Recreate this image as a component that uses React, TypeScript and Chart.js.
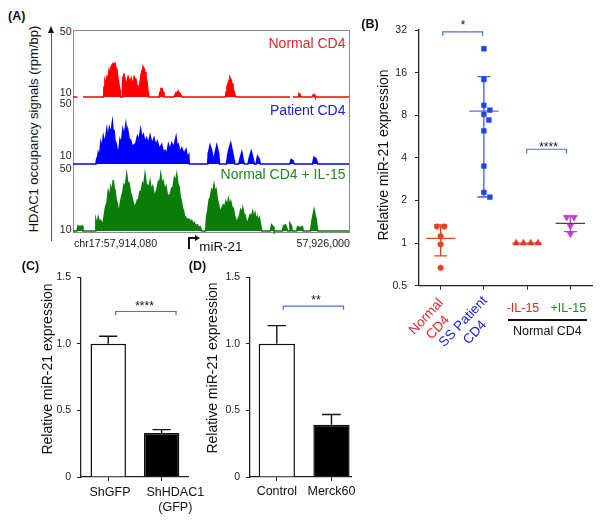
import React, { useEffect, useRef } from 'react';
import { Chart, registerables } from 'chart.js';

Chart.register(...registerables);

const FONT = '"Liberation Sans", Arial, Helvetica, sans-serif';
const AX = '#222';

// ---------------- (A) HDAC1 occupancy tracks ----------------
const regionStart = 57914080;
const regionEnd = 57926000;
const regionKb = (regionEnd - regionStart) / 1000;
const signalMin = 10;
const signalMax = 50;
const trackLabels = ['Normal CD4', 'Patient CD4', 'Normal CD4 + IL-15'];

// [kb from region start, signal (rpm/bp)]
const normalTrack: [number, number | null][] = [
  [0, 10], [0.19, 10], [0.22, null], [0.43, 10], [1.32, 10], [1.34, 16], [1.38, 20], [1.43, 18], [1.47, 22], [1.51, 21],
  [1.56, 26], [1.60, 24], [1.64, 28], [1.68, 29], [1.73, 30], [1.77, 29], [1.81, 30], [1.86, 27], [1.90, 25], [1.94, 21],
  [1.99, 17], [2.03, 14], [2.05, 10], [2.12, 10], [2.14, 18], [2.16, 22], [2.20, 24], [2.25, 20], [2.29, 17], [2.33, 19],
  [2.38, 22], [2.42, 20], [2.46, 19], [2.51, 21], [2.55, 17], [2.59, 19], [2.64, 22], [2.68, 21], [2.72, 20], [2.76, 17],
  [2.81, 15], [2.85, 16], [2.89, 18], [2.94, 23], [2.98, 26], [3.02, 28], [3.07, 27], [3.11, 25], [3.15, 22], [3.20, 19],
  [3.24, 13], [3.26, 10], [3.72, 10], [3.76, 13], [3.80, 15], [3.84, 15], [3.89, 13], [3.93, 10], [4.36, 10], [4.41, 11.5],
  [4.45, 12.5], [4.49, 12], [4.54, 13.5], [4.58, 12.5], [4.62, 12], [4.67, 11], [4.71, 10], [6.59, 10], [6.61, 13], [6.65, 16],
  [6.70, 18], [6.74, 20], [6.78, 21.5], [6.83, 20], [6.87, 18], [6.91, 15], [6.96, 13], [7.00, 11], [7.04, 10], [9.37, 10],
  [9.42, null], [9.50, 10], [9.72, 10], [9.76, 12], [9.80, 11.5], [9.85, 10], [10.32, 10], [10.37, 11], [10.41, 11.5], [10.45, 10],
  [11.92, 10],
];

const patientTrack: [number, number | null][] = [
  [0, 10], [0.99, 10], [1.02, 12.6], [1.05, 11.5], [1.09, 16.5], [1.14, 14], [1.20, 22.5], [1.25, 19], [1.31, 26.4], [1.38, 22],
  [1.46, 30.4], [1.51, 25], [1.57, 31.4], [1.63, 28], [1.70, 34.7], [1.73, 29], [1.77, 30.4], [1.81, 24], [1.86, 22.5], [1.91, 18],
  [1.96, 17.5], [2.00, 20], [2.03, 24.4], [2.09, 22], [2.15, 30.4], [2.21, 27], [2.28, 33.4], [2.32, 27], [2.36, 30.4], [2.42, 25],
  [2.49, 24.4], [2.56, 20], [2.64, 21.5], [2.71, 22], [2.78, 26.4], [2.85, 24], [2.92, 30.4], [2.98, 25], [3.04, 27.4], [3.11, 23],
  [3.18, 25.4], [3.25, 22], [3.33, 26.8], [3.41, 22], [3.50, 25.4], [3.57, 21], [3.64, 23.4], [3.73, 19], [3.83, 21.5], [3.90, 17],
  [3.97, 18.1], [4.05, 16], [4.12, 21.5], [4.19, 18], [4.26, 22.5], [4.35, 20], [4.45, 26], [4.50, 20], [4.55, 21.5], [4.62, 17],
  [4.70, 19.5], [4.79, 16], [4.88, 18.5], [4.94, 14], [5.00, 15.5], [5.02, 10], [5.82, 10], [5.84, 16], [5.92, 21], [5.99, 18],
  [6.05, 13], [6.10, 14], [6.21, 21], [6.29, 16], [6.33, 10], [6.63, 10], [6.68, 15], [6.74, 19], [6.81, 22.3], [6.89, 17],
  [6.96, 12], [6.98, 10], [7.16, 10], [7.21, 13], [7.29, 16.9], [7.34, 13], [7.40, 10], [7.56, 10], [7.62, 14], [7.70, 17.5],
  [7.78, 13], [7.83, 10], [7.91, 10], [7.97, 14.5], [8.04, 13], [8.09, 10], [9.37, 10], [9.42, 12.6], [9.50, 12], [9.55, 10],
  [10.35, 10], [10.41, 14], [10.50, 13], [10.57, 10], [11.92, 10],
];

const il15Track: [number, number | null][] = [
  [0, 10], [0.17, 10], [0.22, 13], [0.30, 12.5], [0.39, 13], [0.43, 10], [0.97, 10], [0.99, 16.6], [1.04, 14], [1.09, 18.2],
  [1.15, 15], [1.20, 16.2], [1.26, 14], [1.31, 15.6], [1.36, 20], [1.41, 24.5], [1.47, 27], [1.52, 33.5], [1.58, 30], [1.63, 36.4],
  [1.69, 33], [1.74, 40.4], [1.78, 35], [1.81, 34.5], [1.86, 29], [1.91, 26.5], [1.96, 21], [2.00, 22.5], [2.05, 27], [2.10, 30.5],
  [2.15, 33], [2.20, 37.5], [2.26, 36], [2.32, 43.4], [2.37, 38], [2.42, 38.5], [2.48, 33], [2.54, 30.5], [2.61, 26], [2.68, 24.5],
  [2.73, 26], [2.78, 28.5], [2.84, 29], [2.89, 33.5], [2.95, 34], [3.01, 38.5], [3.06, 37], [3.11, 43.4], [3.16, 38], [3.21, 37.5],
  [3.27, 35], [3.33, 39.4], [3.38, 34], [3.44, 36.4], [3.51, 31], [3.57, 32.5], [3.63, 35], [3.69, 39.4], [3.74, 38], [3.79, 43.4],
  [3.85, 37], [3.90, 39.4], [3.96, 34], [4.02, 36.4], [4.09, 30], [4.15, 31.5], [4.21, 32], [4.26, 35.5], [4.32, 36], [4.38, 41.5],
  [4.43, 39], [4.48, 43.4], [4.53, 38], [4.58, 36.4], [4.63, 30], [4.67, 28.5], [4.72, 24], [4.76, 22.5], [4.82, 19], [4.88, 17.6],
  [4.93, 17.2], [4.94, 10], [4.96, 10], [4.97, 17], [5.02, 17], [5.08, 15], [5.13, 16.2], [5.19, 14], [5.24, 15], [5.30, 13],
  [5.37, 13.6], [5.43, 12], [5.49, 12.6], [5.56, 10], [5.73, 10], [5.77, 18.5], [5.82, 22], [5.88, 28.5], [5.93, 30], [5.99, 34.5],
  [6.04, 33], [6.09, 37.5], [6.14, 33], [6.18, 34.5], [6.23, 29], [6.28, 26.5], [6.33, 22], [6.38, 22.5], [6.44, 24], [6.49, 25.5],
  [6.55, 24], [6.60, 27.5], [6.66, 25], [6.71, 28.9], [6.76, 25], [6.81, 27.5], [6.87, 24], [6.92, 23.6], [6.98, 19], [7.04, 16.6],
  [7.09, 15], [7.14, 17.6], [7.19, 19], [7.24, 22.5], [7.29, 21], [7.33, 23.6], [7.38, 20], [7.43, 19.6], [7.48, 16], [7.53, 14.6],
  [7.59, 17], [7.65, 19.6], [7.70, 18], [7.76, 21.5], [7.81, 18], [7.86, 20.6], [7.91, 17], [7.96, 18.5], [8.00, 16], [8.05, 17.6],
  [8.10, 14], [8.15, 10], [8.53, 10], [8.58, 13.6], [8.64, 12.5], [8.68, 10], [9.05, 10], [9.09, 13], [9.18, 13.6], [9.27, 10],
  [9.33, 10], [9.37, 14.6], [9.44, 13], [9.46, 10], [9.66, 10], [9.70, 12.6], [9.81, 12], [9.91, 12.6], [9.94, 10], [10.26, 10],
  [10.32, 16], [10.41, 22.5], [10.50, 17], [10.56, 10], [11.92, 10],
];

// ---------------- (B) relative miR-21 expression ----------------
const bCategories = ['Normal CD4', 'SS Patient CD4', '-IL-15', '+IL-15'];
const bTicks = [0.5, 1, 2, 4, 8, 16, 32];
const normalCD4 = [1.31, 1.31, 1.12, 0.98, 0.67];
const patientCD4 = [23.6, 14.3, 9.4, 8.7, 8.1, 7.4, 6.2, 3.5, 2.28, 2.11];
const minusIL15 = [1, 1, 1, 1];
const plusIL15 = [1.52, 1.52, 1.32, 1.16];
const bBrackets = [
  { from: 1.05, to: 1.97, level: 31 },
  { from: 2.99, to: 3.91, level: 4.6 },
];

// ---------------- (C) shRNA ----------------
const cLabels = ['ShGFP', 'ShHDAC1\n(GFP)'];
const cMean = [1.0, 0.33];
const cErr = [0.057, 0.026];
const cBracket = { from: 1.14, to: 2.27, level: 1.243 };

// ---------------- (D) Merck60 ----------------
const dLabels = ['Control', 'Merck60'];
const dMean = [1.0, 0.393];
const dErr = [0.137, 0.077];
const dBracket = { from: 1.12, to: 2.22, level: 1.284 };

const yTicksCD = [0, 0.5, 1, 1.5];

// ---------------- helpers ----------------
const base: any = {
  animation: false,
  responsive: false,
  maintainAspectRatio: false,
  events: [],
  plugins: { legend: { display: false }, tooltip: { enabled: false } },
};

function mean(a: number[]) {
  return a.reduce((s, v) => s + v, 0) / a.length;
}
function sd(a: number[]) {
  const m = mean(a);
  return Math.sqrt(a.reduce((s, v) => s + (v - m) * (v - m), 0) / (a.length - 1));
}

// simple beeswarm on the log scale (points that would overlap are moved sideways)
function swarm(vals: number[], center: number): number[] {
  const PXU = 43.25, PXL = 43.5, D = 7.3;
  const xs = vals.map(() => center);
  const cnt = new Map<number, number>();
  vals.forEach((v) => cnt.set(v, (cnt.get(v) || 0) + 1));
  const seen = new Map<number, number>();
  const placed: { x: number; y: number }[] = [];
  vals.forEach((v, i) => {
    const n = cnt.get(v) as number;
    if (n > 1) {
      const k = seen.get(v) || 0;
      seen.set(v, k + 1);
      xs[i] = center + ((k - (n - 1) / 2) * D) / PXU;
      placed.push({ x: xs[i] * PXU, y: Math.log2(v) * PXL });
    }
  });
  vals.forEach((v, i) => {
    if ((cnt.get(v) as number) > 1) return;
    const y = Math.log2(v) * PXL;
    for (let s = 0; s < 40; s++) {
      const off = s === 0 ? 0 : (s % 2 ? 1 : -1) * Math.ceil(s / 2);
      const px = center * PXU + off;
      if (placed.every((p) => Math.hypot(p.x - px, p.y - y) >= D)) {
        xs[i] = px / PXU;
        placed.push({ x: px, y });
        break;
      }
    }
  });
  return xs;
}

function ChartCanvas({ left, top, width, height, config }: any) {
  const ref = useRef<HTMLCanvasElement>(null);
  useEffect(() => {
    const chart = new Chart(ref.current as HTMLCanvasElement, config());
    return () => chart.destroy();
  }, []);
  return (
    <canvas
      ref={ref}
      width={width}
      height={height}
      style={{ position: 'absolute', left, top, width, height }}
    />
  );
}

function T({ x, y, s = 12, c = '#111', b = false, a = 'c', r = 0, lh, children }: any) {
  const tx = a === 'c' ? '-50%' : a === 'r' ? '-100%' : '0%';
  return (
    <div
      style={{
        position: 'absolute',
        left: x,
        top: y,
        transform: `translate(${tx},-50%)${r ? ` rotate(${r}deg)` : ''}`,
        fontFamily: FONT,
        fontSize: s,
        fontWeight: b ? 'bold' : 'normal',
        color: c,
        whiteSpace: 'pre',
        lineHeight: lh ? `${lh}px` : '1.15',
        textAlign: 'center',
      }}
    >
      {children}
    </div>
  );
}

// ---------------- configs ----------------
function trackConfig(track: [number, number | null][], color: string) {
  return () => ({
    type: 'line',
    data: {
      datasets: [
        {
          data: track.map(([p, v]) => ({ x: p, y: v })),
          borderColor: color,
          backgroundColor: color,
          borderWidth: 1.6,
          pointRadius: 0,
          fill: 'start',
          tension: 0,
          spanGaps: false,
          clip: 4,
        },
      ],
    },
    options: {
      ...base,
      layout: { padding: { bottom: 3 } },
      scales: {
        x: { type: 'linear', min: 0, max: regionKb, display: false },
        y: { type: 'linear', min: signalMin, max: signalMax, display: false },
      },
    },
  });
}

function bConfig() {
  const groups = [
    { vals: normalCD4, color: '#f0401e', style: 'circle', r: 2.8, rot: 0, meanColor: '#f0401e', sdColor: '#f0401e' },
    { vals: patientCD4, color: '#1f44e8', style: 'rect', r: 3.4, rot: 0, meanColor: '#5673e6', sdColor: '#3f5fe6' },
    { vals: minusIL15, color: '#ee3322', style: 'triangle', r: 3.9, rot: 0, meanColor: '#666', sdColor: '#666' },
    { vals: plusIL15, color: '#c23fd3', style: 'triangle', r: 3.9, rot: 180, meanColor: '#444', sdColor: '#c23fd3' },
  ];
  const datasets: any[] = [];
  groups.forEach((g, gi) => {
    const c = gi + 1;
    const xs = swarm(g.vals, c);
    datasets.push({
      type: 'scatter',
      data: g.vals.map((v, i) => ({ x: xs[i], y: v })),
      pointStyle: g.style,
      pointRadius: g.r,
      pointRotation: g.rot,
      backgroundColor: g.color,
      borderColor: g.color,
      borderWidth: 0.5,
      order: 0,
    });
    const m = mean(g.vals);
    const s = sd(g.vals);
    datasets.push({
      type: 'scatter',
      showLine: true,
      data: [{ x: c - 0.34, y: m }, { x: c + 0.34, y: m }],
      borderColor: g.meanColor,
      borderWidth: 1.3,
      pointRadius: 0,
      order: 1,
    });
    if (s > 0) {
      datasets.push({
        type: 'scatter',
        showLine: true,
        spanGaps: false,
        data: [
          { x: c, y: m - s }, { x: c, y: m + s }, { x: c, y: null },
          { x: c - 0.15, y: m + s }, { x: c + 0.15, y: m + s }, { x: c, y: null },
          { x: c - 0.15, y: m - s }, { x: c + 0.15, y: m - s },
        ],
        borderColor: g.sdColor,
        borderWidth: 1.3,
        pointRadius: 0,
        order: 1,
      });
    }
  });
  bBrackets.forEach((br) => {
    const tip = br.level / 1.07;
    datasets.push({
      type: 'scatter',
      showLine: true,
      data: [{ x: br.from, y: tip }, { x: br.from, y: br.level }, { x: br.to, y: br.level }, { x: br.to, y: tip }],
      borderColor: '#4a6fe0',
      borderWidth: 1.2,
      pointRadius: 0,
      order: 2,
    });
  });
  return {
    type: 'scatter',
    data: { datasets },
    options: {
      ...base,
      layout: { padding: { top: 30, right: 10, left: 0, bottom: 0 } },
      scales: {
        x: {
          type: 'linear',
          min: 0.5,
          max: 4.5,
          afterBuildTicks: (s: any) => { s.ticks = bCategories.map((_, i) => ({ value: i + 1 })); },
          afterFit: (s: any) => { s.height = 9; },
          ticks: { display: false },
          grid: { drawOnChartArea: false, tickLength: 4, color: AX },
          border: { color: AX, width: 1.3 },
        },
        y: {
          type: 'logarithmic',
          min: 0.5,
          max: 32,
          afterBuildTicks: (s: any) => { s.ticks = bTicks.map((v) => ({ value: v })); },
          afterFit: (s: any) => { s.width = 79; },
          ticks: { callback: (v: any) => String(v), font: { family: FONT, size: 10.5 }, color: AX, padding: 8 },
          grid: { drawOnChartArea: false, tickLength: 4, color: AX },
          border: { color: AX, width: 1.3 },
        },
      },
    },
  };
}

function barConfig(labels: string[], means: number[], errs: number[], br: any, xmin: number, xmax: number, yWidth: number, padRight: number, showLabels: boolean) {
  return () => {
    const err: any[] = [];
    means.forEach((m, i) => {
      const c = i + 1;
      const t = m + errs[i];
      err.push({ x: c, y: m }, { x: c, y: t }, { x: c, y: null }, { x: c - 0.17, y: t }, { x: c + 0.17, y: t }, { x: c, y: null });
    });
    const tip = br.level - 0.028;
    return {
      type: 'bar',
      data: {
        datasets: [
          {
            type: 'bar',
            data: means.map((m, i) => ({ x: i + 1, y: m })),
            backgroundColor: ['#ffffff', '#000000'],
            borderColor: '#111',
            borderWidth: 1.5,
            barPercentage: 0.83,
            categoryPercentage: 0.8,
            order: 3,
          },
          {
            type: 'line',
            data: err,
            borderColor: '#111',
            borderWidth: 1.4,
            pointRadius: 0,
            spanGaps: false,
            order: 1,
          },
          {
            type: 'line',
            data: [{ x: br.from, y: tip }, { x: br.from, y: br.level }, { x: br.to, y: br.level }, { x: br.to, y: tip }],
            borderColor: '#4a6fe0',
            borderWidth: 1.2,
            pointRadius: 0,
            order: 2,
          },
        ],
      },
      options: {
        ...base,
        layout: { padding: { top: 9, right: padRight, left: 0, bottom: 0 } },
        scales: {
          x: {
            type: 'linear',
            min: xmin,
            max: xmax,
            offset: false,
            afterBuildTicks: (s: any) => { s.ticks = labels.map((_, i) => ({ value: i + 1 })); },
            afterFit: (s: any) => { s.height = 45; },
            ticks: {
              display: showLabels,
              callback: (v: any) => labels[Math.round(v) - 1],
              font: { family: FONT, size: 12.5, lineHeight: 1.2 },
              color: '#111',
              padding: 3,
              maxRotation: 0,
              autoSkip: false,
            },
            grid: { drawOnChartArea: false, tickLength: 4, color: AX, offset: false },
            border: { color: AX, width: 1.3 },
          },
          y: {
            type: 'linear',
            min: 0,
            max: 1.5,
            afterBuildTicks: (s: any) => { s.ticks = yTicksCD.map((v) => ({ value: v })); },
            afterFit: (s: any) => { s.width = yWidth; },
            ticks: {
              callback: (v: any) => (v === 0 ? '0' : Number(v).toFixed(1)),
              font: { family: FONT, size: 10.5 },
              color: AX,
              padding: 6,
            },
            grid: { drawOnChartArea: false, tickLength: 4, color: AX },
            border: { color: AX, width: 1.3 },
          },
        },
      },
    };
  };
}

const RED_T = '#e3262b';
const BLUE_T = '#1a22e0';
const GREEN_T = '#1c8a1c';

export default function App() {
  const trackTops = [30, 97, 164];
  const trackColors = ['#ff0000', '#0000ff', '#0b7d0b'];
  const trackTextColors = [RED_T, BLUE_T, GREEN_T];
  const tracks = [normalTrack, patientTrack, il15Track];
  const tickY = [[30.7, 91.7], [103.3, 155], [168.3, 229.3]];
  const labelY = [43.3, 109.7, 174.3];

  return (
    <div style={{ position: 'absolute', left: 0, top: 0, width: 602, height: 522, background: '#fff', overflow: 'hidden' }}>
      {/* ---------- Panel A ---------- */}
      <T x={16.7} y={15.5} s={12.5} b>(A)</T>
      <T x={33.5} y={129} s={13} r={-90}>HDAC1 occupancy signals (rpm/bp)</T>
      <div style={{ position: 'absolute', left: 51, top: 32, width: 1.2, height: 209, background: '#555' }} />
      <div style={{ position: 'absolute', left: 48.1, top: 26, width: 0, height: 0, borderLeft: '3.5px solid transparent', borderRight: '3.5px solid transparent', borderBottom: '7px solid #111' }} />
      <div style={{ position: 'absolute', left: 73, top: 30, width: 277, height: 203, border: '1px solid #8a8a8a', boxSizing: 'border-box' }} />
      {tracks.map((tr, i) => (
        <ChartCanvas key={i} left={73} top={trackTops[i]} width={276} height={70} config={trackConfig(tr, trackColors[i])} />
      ))}
      {tickY.map((ys, i) => (
        <React.Fragment key={i}>
          <T x={71.5} y={ys[0]} s={10.5} a="r" c={AX}>{String(signalMax)}</T>
          <T x={71.5} y={ys[1]} s={10.5} a="r" c={AX}>{String(signalMin)}</T>
        </React.Fragment>
      ))}
      {trackLabels.map((t, i) => (
        <T key={t} x={345.5} y={labelY[i]} s={14} a="r" c={trackTextColors[i]}>{t}</T>
      ))}
      <T x={74} y={243.3} s={10.7} a="l" c={AX}>{'chr17:' + regionStart.toLocaleString('en-US')}</T>
      <T x={350} y={243.3} s={10.7} a="r" c={AX}>{regionEnd.toLocaleString('en-US')}</T>
      <div style={{ position: 'absolute', left: 188, top: 237, width: 1.5, height: 12, background: '#111' }} />
      <div style={{ position: 'absolute', left: 188, top: 237, width: 8, height: 1.5, background: '#111' }} />
      <div style={{ position: 'absolute', left: 195, top: 234.8, width: 0, height: 0, borderTop: '3px solid transparent', borderBottom: '3px solid transparent', borderLeft: '5px solid #111' }} />
      <T x={199.3} y={246.7} s={13.4} a="l">miR-21</T>

      {/* ---------- Panel B ---------- */}
      <ChartCanvas left={340} top={0} width={262} height={300} config={bConfig} />
      <T x={370} y={24} s={12.5} b>(B)</T>
      <T x={383} y={155} s={14} r={-90}>Relative miR-21 expression</T>
      <T x={463} y={26} s={12}>*</T>
      <T x={548.5} y={148} s={12}>****</T>
      <T x={431.5} y={322} s={13.5} r={-47} lh={16} c={RED_T}>{'Normal\nCD4'}</T>
      <T x={468.5} y={327} s={13.5} r={-47} lh={16} c={BLUE_T}>{'SS Patient\nCD4'}</T>
      <T x={523} y={308.3} s={12.5} c={RED_T}>{bCategories[2]}</T>
      <T x={568.3} y={308.3} s={12.5} c={GREEN_T}>{bCategories[3]}</T>
      <div style={{ position: 'absolute', left: 507.7, top: 319.3, width: 79, height: 1.5, background: '#111' }} />
      <T x={547.3} y={331} s={12.5}>Normal CD4</T>

      {/* ---------- Panel C ---------- */}
      <ChartCanvas left={0} top={265} width={200} height={257} config={barConfig(cLabels, cMean, cErr, cBracket, 0.49, 2.5, 81, 11.7, false)} />
      <T x={30.5} y={266} s={12.5} b>(C)</T>
      <T x={46.7} y={369} s={14} r={-90}>Relative miR-21 expression</T>
      <T x={144.5} y={307} s={12}>****</T>
      <T x={110} y={491.7} s={12.5}>{cLabels[0]}</T>
      <T x={175.3} y={499.5} s={12.5} lh={15.3}>{cLabels[1]}</T>

      {/* ---------- Panel D ---------- */}
      <ChartCanvas left={190} top={265} width={180} height={257} config={barConfig(dLabels, dMean, dErr, dBracket, 0.51, 2.37, 60, 18.3, true)} />
      <T x={197.5} y={266} s={12.5} b>(D)</T>
      <T x={211.7} y={368} s={14} r={-90}>Relative miR-21 expression</T>
      <T x={316} y={300.7} s={12}>**</T>
    </div>
  );
}
